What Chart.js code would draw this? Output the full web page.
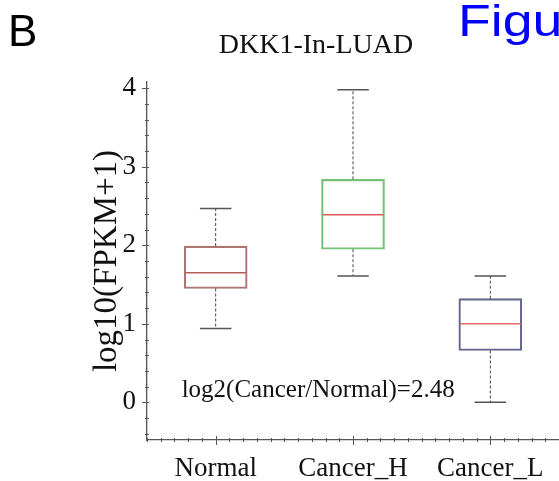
<!DOCTYPE html>
<html>
<head>
<meta charset="utf-8">
<script src="https://cdn.jsdelivr.net/npm/chart.js@4.4.0/dist/chart.umd.min.js"></script>
<style>
  body { margin: 0; background: #fff; }
  canvas { display: block; }
</style>
</head>
<body>
<canvas id="box_chart" width="559" height="481"></canvas>
<script>
// box plot values (log10(FPKM+1))
const categories = ['Normal', 'Cancer_H', 'Cancer_L'];
const whiskerLow = [0.94, 1.61, 0.00];
const q1 = [1.45, 1.95, 0.66];
const medians = [1.65, 2.39, 1.00];
const q3 = [1.99, 2.84, 1.32];
const whiskerHigh = [2.47, 3.98, 1.61];
const yTicks = [0, 1, 2, 3, 4];
const boxColors = ['#ad7474', '#74c274', '#66668f'];
const medianColors = ['#b45c5c', '#e05a5a', '#e86a6a'];
const ratioText = 'log2(Cancer/Normal)=2.48';

const serif = '"Liberation Serif", "Times New Roman", serif';

/** draws whiskers, caps, medians, axis tick marks and the loose texts */
const boxPlotExtras = {
    id: 'boxPlotExtras',
    afterDatasetsDraw(chart) {
        const ctx = chart.ctx;
        const y = chart.scales.y;
        const bars = chart.getDatasetMeta(0).data;
        ctx.save();
        bars.forEach((bar, i) => {
            const half = bar.width / 2;
            // dashed whiskers
            ctx.strokeStyle = '#444';
            ctx.lineWidth = 1;
            ctx.setLineDash([3, 2]);
            ctx.beginPath();
            ctx.moveTo(bar.x, y.getPixelForValue(q3[i]));
            ctx.lineTo(bar.x, y.getPixelForValue(whiskerHigh[i]));
            ctx.moveTo(bar.x, y.getPixelForValue(q1[i]));
            ctx.lineTo(bar.x, y.getPixelForValue(whiskerLow[i]));
            ctx.stroke();
            // caps
            ctx.setLineDash([]);
            ctx.lineWidth = 1.5;
            ctx.strokeStyle = '#555';
            ctx.beginPath();
            [whiskerHigh[i], whiskerLow[i]].forEach(v => {
                const py = y.getPixelForValue(v);
                ctx.moveTo(bar.x - half / 2, py);
                ctx.lineTo(bar.x + half / 2, py);
            });
            ctx.stroke();
            // median
            ctx.strokeStyle = medianColors[i];
            ctx.beginPath();
            const my = y.getPixelForValue(medians[i]);
            ctx.moveTo(bar.x - half + 1, my);
            ctx.lineTo(bar.x + half - 1, my);
            ctx.stroke();
        });
        ctx.restore();
    },
    afterDraw(chart) {
        const ctx = chart.ctx;
        const x = chart.scales.x;
        const y = chart.scales.y;
        const area = chart.chartArea;
        ctx.save();
        ctx.strokeStyle = '#555';
        ctx.lineWidth = 1;
        // y minor + major ticks
        ctx.beginPath();
        for (let k = -2; k <= 20; k++) {
            const py = Math.round(y.getPixelForValue(k / 5)) + 0.5;
            const major = k % 5 === 0;
            ctx.moveTo(area.left - (major ? 5 : 2), py);
            ctx.lineTo(area.left + 2, py);
        }
        ctx.stroke();
        // x minor + major ticks
        const step = x.getPixelForValue(1) - x.getPixelForValue(0);
        ctx.beginPath();
        for (let k = -5; k <= 25; k++) {
            const px = Math.round(x.getPixelForValue(0) + k * step / 10) + 0.5;
            if (px < area.left || px > area.right) continue;
            const major = k % 10 === 0;
            ctx.moveTo(px, area.bottom + (major ? 5 : 2));
            ctx.lineTo(px, area.bottom - (major ? 4 : 2));
        }
        ctx.stroke();

        // annotation
        ctx.fillStyle = '#111';
        ctx.font = '25px ' + serif;
        ctx.textAlign = 'left';
        ctx.textBaseline = 'alphabetic';
        ctx.fillText(ratioText, x.getPixelForValue(0) - 34, y.getPixelForValue(0.07));

        // title
        ctx.textAlign = 'center';
        ctx.font = '28px ' + serif;
        ctx.fillText('DKK1-In-LUAD', 316, 53);

        // panel letter and neighbouring caption (cut off by the right edge)
        ctx.textAlign = 'left';
        ctx.font = '44px "Liberation Sans", Arial, sans-serif';
        ctx.fillStyle = '#000';
        ctx.fillText('B', 8, 46);
        ctx.fillStyle = '#0000ff';
        ctx.translate(458, 0);
        ctx.scale(1.22, 1);
        ctx.fillText('Figure', 0, 36);
        ctx.restore();
    }
};

function createBoxChart(element) {
    return new Chart(element, {
        type: 'bar',
        data: {
            labels: categories,
            datasets: [{
                data: categories.map((c, i) => [q1[i], q3[i]]),
                backgroundColor: 'rgba(0,0,0,0)',
                borderColor: boxColors,
                borderWidth: 1.5,
                borderSkipped: false,
                barThickness: 63
            }]
        },
        options: {
            responsive: false,
            animation: false,
            layout: { padding: { top: 82, left: 80, right: 0, bottom: 0 } },
            plugins: {
                legend: { display: false },
                tooltip: { enabled: false }
            },
            scales: {
                x: {
                    grid: { display: false, drawTicks: false },
                    border: { display: true, color: '#555', width: 1.3 },
                    ticks: {
                        color: '#111',
                        padding: 13,
                        maxRotation: 0,
                        font: { family: serif, size: 27 }
                    },
                    afterFit: scale => { scale.height = 41; }
                },
                y: {
                    min: -0.48,
                    max: 4.08,
                    grid: { display: false, drawTicks: false },
                    border: { display: true, color: '#555', width: 1.3 },
                    afterBuildTicks: scale => { scale.ticks = yTicks.map(v => ({ value: v })); },
                    ticks: {
                        color: '#111',
                        padding: 11,
                        font: { family: serif, size: 27 }
                    },
                    title: {
                        display: true,
                        text: 'log10(FPKM+1)',
                        color: '#111',
                        padding: { top: 8 },
                        font: { family: serif, size: 33 }
                    },
                    afterFit: scale => { scale.width = 67; }
                }
            }
        },
        plugins: [boxPlotExtras]
    });
}

const chart = createBoxChart(document.getElementById('box_chart'));
</script>
</body>
</html>
